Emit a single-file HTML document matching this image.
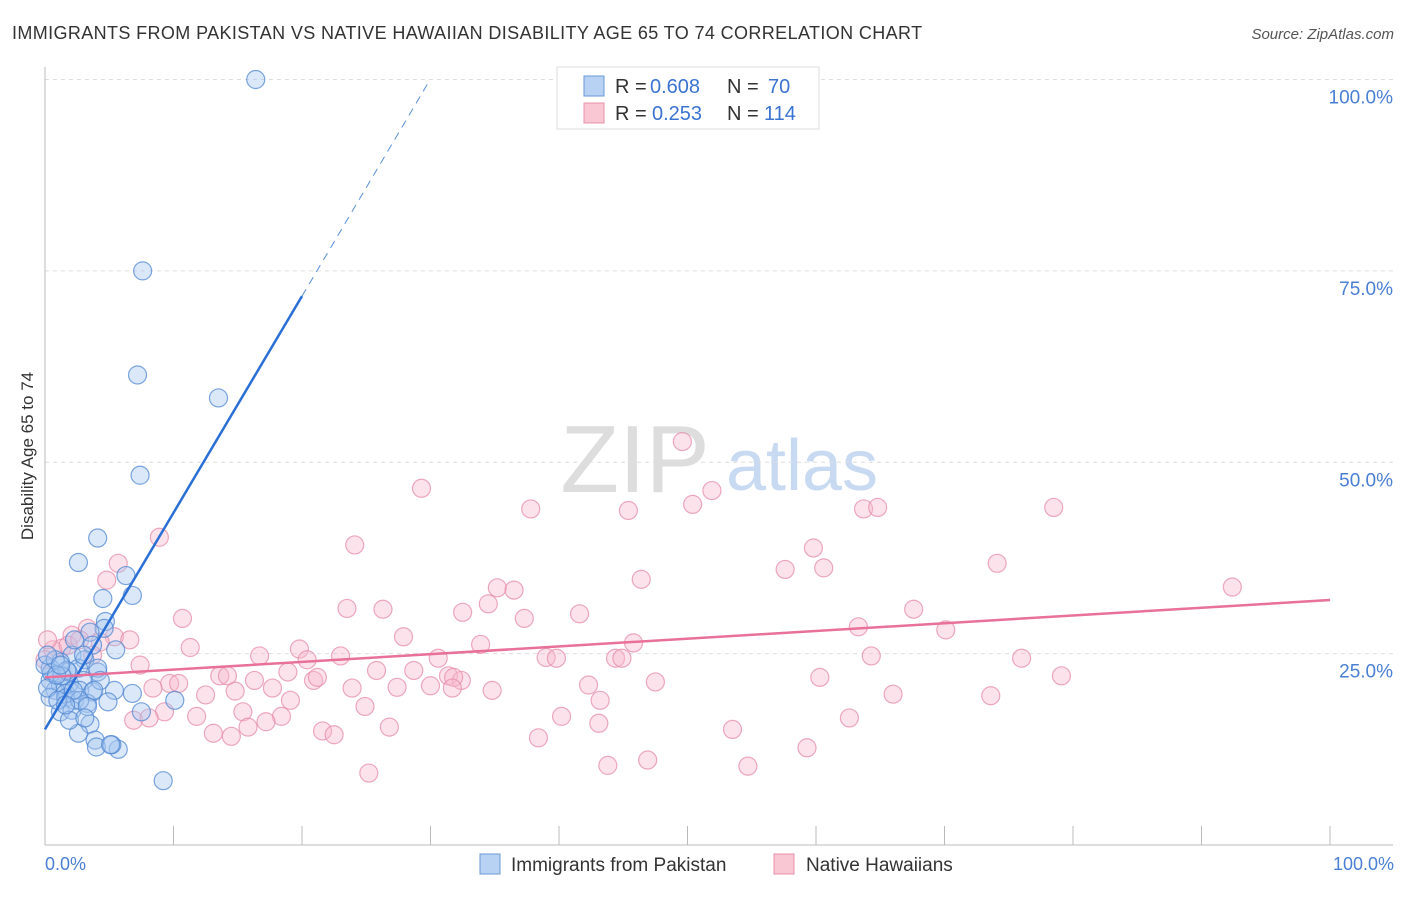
<!DOCTYPE html>
<html><head><meta charset="utf-8"><style>
body{margin:0;background:#fff;font-family:"Liberation Sans",sans-serif}
svg text{font-family:"Liberation Sans",sans-serif}
</style></head><body>
<svg id="chart" width="1406" height="892" xmlns="http://www.w3.org/2000/svg">
<text x="12" y="39" font-size="18" fill="#333" letter-spacing="0.38">IMMIGRANTS FROM PAKISTAN VS NATIVE HAWAIIAN DISABILITY AGE 65 TO 74 CORRELATION CHART</text>
<text x="1394" y="39" font-size="15" fill="#555" text-anchor="end" font-style="italic">Source: ZipAtlas.com</text>
<g><text x="635" y="492" font-size="96" fill="#ddd" text-anchor="middle" font-family="Liberation Serif">ZIP</text><text x="802" y="490" font-size="72" fill="#c8daf2" text-anchor="middle">atlas</text></g>
<g id="grid"></g><g id="axes"></g><g id="pink"></g><g id="blue"></g><g id="lines"></g>
<text transform="translate(33,456) rotate(-90)" font-size="17" fill="#333" text-anchor="middle">Disability Age 65 to 74</text>
<text x="45" y="870" font-size="18" fill="#4a7fd4">0.0%</text>
<text x="1394" y="870" font-size="18" fill="#4a7fd4" text-anchor="end">100.0%</text>
<g>
<rect x="557" y="67" width="262" height="62" fill="#fff" stroke="#ddd"/>
<rect x="584" y="76" width="20" height="20" fill="#b8d2f4" stroke="#6a9ad8"/>
<rect x="584" y="103" width="20" height="20" fill="#f9c6d4" stroke="#e890aa"/>
<text x="615" y="93" font-size="20" fill="#333">R =</text>
<text x="650" y="93" font-size="20" fill="#3a74d0">0.608</text>
<text x="727" y="93" font-size="20" fill="#333">N =</text>
<text x="768" y="93" font-size="20" fill="#3a74d0">70</text>
<text x="615" y="120" font-size="20" fill="#333">R =</text>
<text x="652" y="120" font-size="20" fill="#3a74d0">0.253</text>
<text x="727" y="120" font-size="20" fill="#333">N =</text>
<text x="764" y="120" font-size="20" fill="#3a74d0">114</text>
</g>
<g>
<rect x="480" y="854" width="20" height="20" fill="#b8d2f4" stroke="#6a9ad8"/>
<text x="511" y="871" font-size="19" fill="#333">Immigrants from Pakistan</text>
<rect x="774" y="854" width="20" height="20" fill="#f9c6d4" stroke="#e890aa"/>
<text x="806" y="871" font-size="19" fill="#333">Native Hawaiians</text>
</g>
</svg>
<script>
const yTicks=[25,50,75,100];
const yTickLabels=["25.0%","50.0%","75.0%","100.0%"];
const xTicks=[0,10,20,30,40,50,60,70,80,90,100];
const blueX=[16.4,7.6,7.2,13.5,7.4,4.1,2.6,6.3,4.5,6.8,4.7,4.6,5.5,3.5,3.7,2.1,3.1,1.2,0.4,2.6,4.1,0.4,1.2,1.9,3.0,0.8,1.6,2.7,3.7,5.4,6.8,0.4,1.6,2.3,3.3,4.9,1.2,2.1,3.5,2.6,3.9,4.0,5.7,5.2,7.5,10.1,9.2,4.1,1.8,0.5,0,0.8,2.3,1.7,2.7,3.3,0.2,4.3,1.3,1.0,1.9,3.1,5.1,0.9,2.2,0.2,1.2,3.0,1.6,3.8];
const blueY=[100,75,61.4,58.4,48.3,40.1,36.9,35.2,32.2,32.6,29.2,28.3,25.5,27.8,26.1,24.8,24.2,23.9,23.1,23.1,22.6,21.5,20.9,21.1,21.5,20.2,19.8,20.2,20.0,20.2,19.8,19.3,19.2,18.9,18.5,18.7,17.4,17.6,15.8,14.6,13.7,12.8,12.5,13.1,17.4,18.9,8.4,23.1,22.6,22.5,23.5,24.2,26.8,22.8,18.9,18.1,20.5,21.5,22.1,18.9,16.3,16.6,13.1,22.2,20.2,24.8,23.5,24.8,18.3,20.2];
const pinkX=[49.6,29.3,51.9,37.8,45.4,50.4,63.7,64.8,78.5,24.1,8.9,59.8,57.6,60.6,74.1,46.4,92.4,35.2,36.5,5.7,4.8,34.5,32.5,23.5,26.3,41.6,67.6,10.7,37.3,63.3,70.1,27.9,45.8,33.9,11.3,19.8,20.4,23.0,16.7,30.6,39.0,39.8,44.4,44.9,64.3,76.0,25.8,28.7,31.4,32.4,31.8,79.1,60.3,47.5,9.7,10.4,13.6,14.2,16.3,18.9,20.9,21.2,23.9,27.4,30.0,31.7,34.8,42.3,8.4,17.7,12.5,14.8,19.1,43.2,66.0,73.6,24.9,40.2,11.8,15.4,9.3,6.9,8.1,18.4,17.2,15.8,13.1,14.5,21.6,22.5,26.8,38.4,43.1,53.5,62.6,59.3,43.8,46.9,54.7,25.2,5.4,6.6,2.1,1.3,3.3,4.3,0.6,0,1.8,3.7,7.4,0.2,2.7];
const pinkY=[52.7,46.6,46.3,43.9,43.7,44.5,43.9,44.1,44.1,39.2,40.2,38.8,36.0,36.2,36.8,34.7,33.7,33.6,33.3,36.8,34.6,31.5,30.4,30.9,30.8,30.2,30.8,29.6,29.6,28.5,28.1,27.2,26.4,26.2,25.8,25.6,24.2,24.7,24.7,24.4,24.5,24.4,24.4,24.4,24.7,24.4,22.8,22.8,22.1,21.5,21.9,22.1,21.9,21.3,21.1,21.1,22.1,22.1,21.5,22.6,21.5,21.9,20.5,20.6,20.8,20.5,20.2,20.9,20.5,20.5,19.6,20.1,18.9,18.9,19.7,19.5,18.1,16.8,16.8,17.4,17.4,16.3,16.6,16.8,16.1,15.4,14.6,14.2,14.9,14.4,15.4,14.0,15.9,15.1,16.6,12.7,10.4,11.1,10.3,9.4,27.2,26.8,27.4,25.7,28.3,26.5,25.5,24.2,26.1,24.8,23.5,26.8,26.8];
const blueTrendX=[0,20,29.8];
const blueTrendY=[15.1,71.7,99.5];
const pinkTrendX=[0,100];
const pinkTrendY=[21.9,32.0];
const NS="http://www.w3.org/2000/svg";
const X=v=>45+v*12.85, Y=v=>845-v*7.655;
function mk(tag,attrs,parent){const e=document.createElementNS(NS,tag);for(const k in attrs)e.setAttribute(k,attrs[k]);document.getElementById(parent).appendChild(e);return e;}
yTicks.forEach((t,i)=>{
 const l=mk('line',{x1:45,x2:1393,y1:Y(t),y2:Y(t),stroke:'#ddd','stroke-dasharray':'4,4'},'grid');
 
 
 const tx=mk('text',{x:1393,y:Y(t)+24,'font-size':19,fill:'#4a7fd4','text-anchor':'end'},'grid');
 tx.textContent=yTickLabels[i];
 
 
});
let ax=mk('line',{x1:45,x2:1393,y1:845,y2:845,stroke:'#bbb'},'axes');


let ay=mk('line',{x1:45,x2:45,y1:67,y2:845,stroke:'#bbb'},'axes');


xTicks.forEach(t=>{const l=mk('line',{x1:X(t),x2:X(t),y1:826,y2:845,stroke:'#bbb'},'axes');
 
 });
pinkX.forEach((v,i)=>{const c=mk('circle',{cx:X(v),cy:Y(pinkY[i]),r:9,fill:'rgba(248,185,205,0.4)',stroke:'rgba(230,140,170,0.75)','stroke-width':1.2},'pink');
 
 });
blueX.forEach((v,i)=>{const c=mk('circle',{cx:X(v),cy:Y(blueY[i]),r:9,fill:'rgba(165,198,240,0.4)',stroke:'rgba(80,135,210,0.75)','stroke-width':1.2},'blue');
 
 });
let b1=mk('line',{x1:X(blueTrendX[0]),y1:Y(blueTrendY[0]),x2:X(blueTrendX[1]),y2:Y(blueTrendY[1]),stroke:'#2a6fd6','stroke-width':2.5},'lines');


let b2=mk('line',{x1:X(blueTrendX[1]),y1:Y(blueTrendY[1]),x2:X(blueTrendX[2]),y2:Y(blueTrendY[2]),stroke:'#5a90d8','stroke-width':1,'stroke-dasharray':'8,6'},'lines');


let p1=mk('line',{x1:X(pinkTrendX[0]),y1:Y(pinkTrendY[0]),x2:X(pinkTrendX[1]),y2:Y(pinkTrendY[1]),stroke:'#e8709a','stroke-width':2.5},'lines');


</script>
</body></html>
